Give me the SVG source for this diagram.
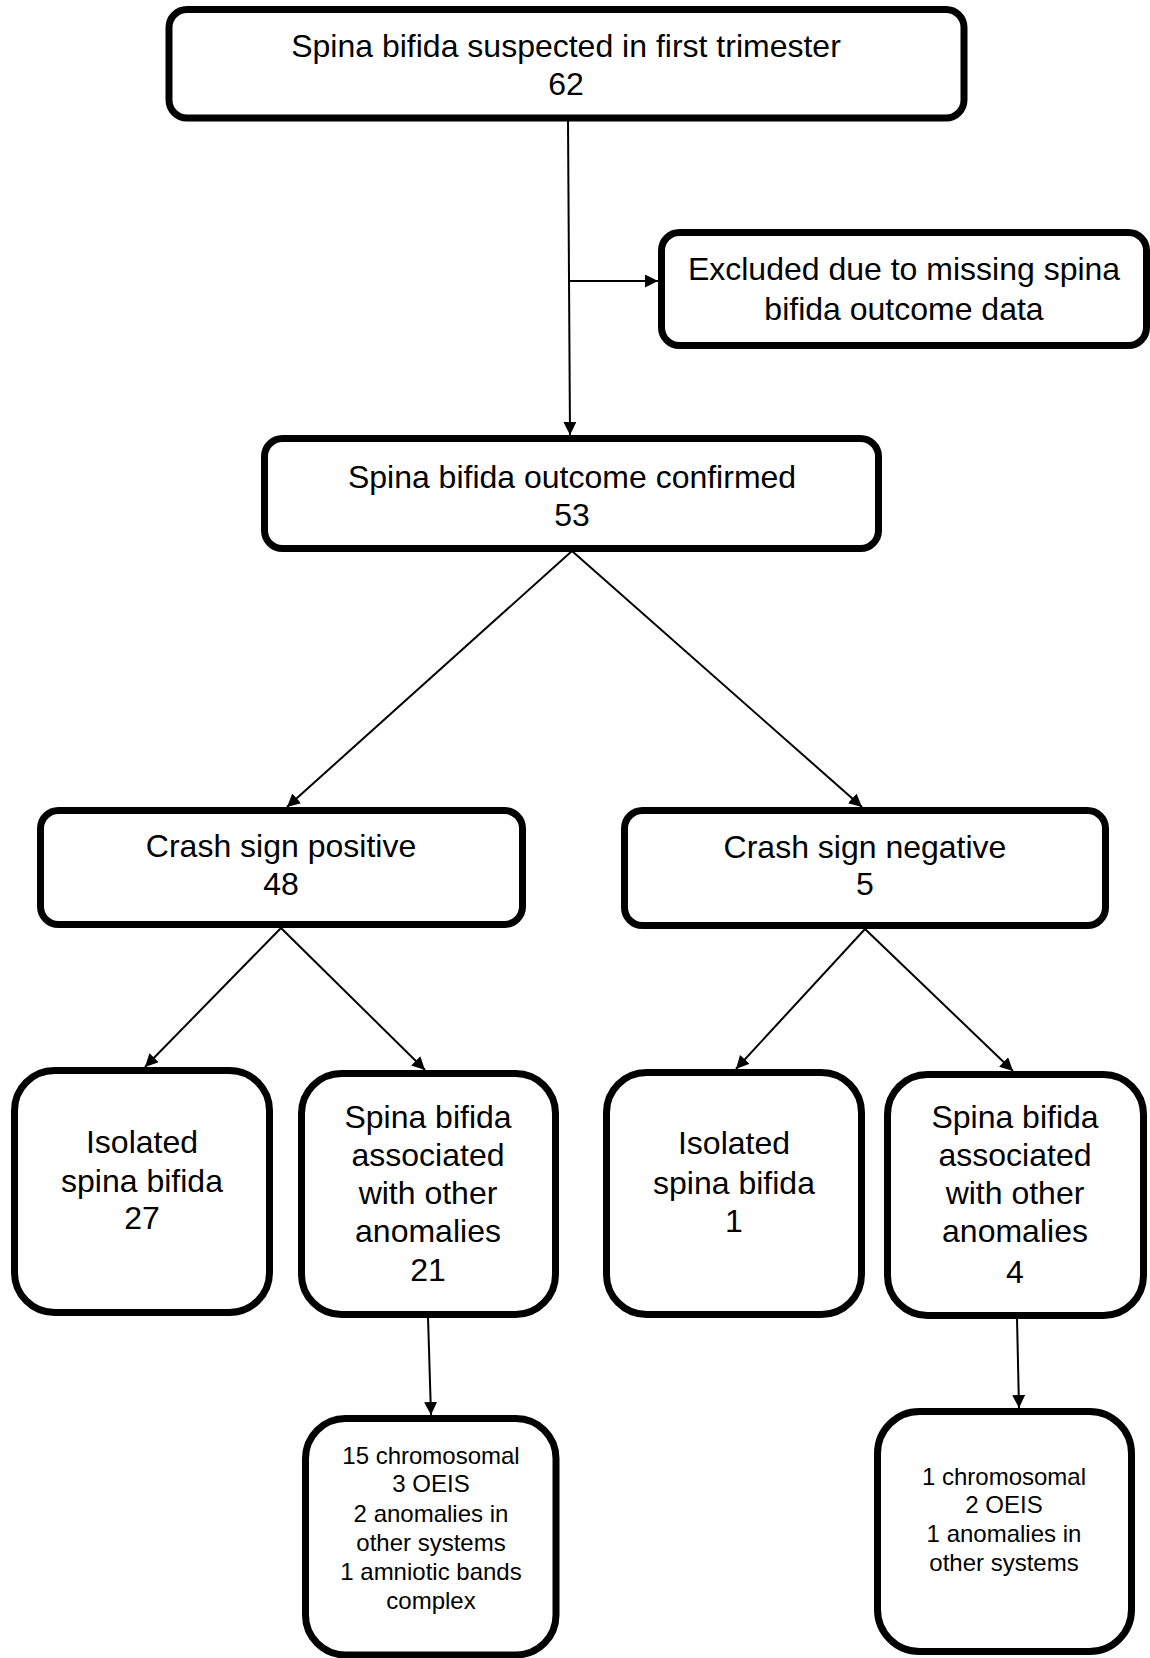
<svg xmlns="http://www.w3.org/2000/svg" width="1150" height="1658" viewBox="0 0 1150 1658">
  <style>
    .box { fill: #ffffff; stroke: #000000; stroke-width: 7; }
    .link { fill: none; stroke: #000000; stroke-width: 2; marker-end: url(#arrow); }
    text { font-family: "Liberation Sans", Arial, Helvetica, sans-serif; fill: #000000; text-anchor: middle; }
    .t32 { font-size: 32px; }
    .t24 { font-size: 24px; }
  </style>
  <defs>
    <marker id="arrow" markerUnits="userSpaceOnUse" markerWidth="14" markerHeight="14" refX="13" refY="6.5" orient="auto">
      <path d="M0,0 L13,6.5 L0,13 z" fill="#000000"/>
    </marker>
  </defs>
  <rect width="1150" height="1658" fill="#ffffff"/>

  <!-- connectors -->
  <g id="connectors">
    <line class="link" x1="568" y1="121" x2="570" y2="435"/>
    <line class="link" x1="569" y1="281" x2="658" y2="281"/>
    <line class="link" x1="572" y1="551" x2="287" y2="807"/>
    <line class="link" x1="572" y1="551" x2="862" y2="807"/>
    <line class="link" x1="281" y1="928" x2="145" y2="1067"/>
    <line class="link" x1="281" y1="928" x2="425" y2="1070"/>
    <line class="link" x1="865" y1="929" x2="736" y2="1069"/>
    <line class="link" x1="865" y1="929" x2="1013" y2="1071"/>
    <line class="link" x1="428" y1="1317" x2="431" y2="1415"/>
    <line class="link" x1="1017" y1="1318" x2="1019" y2="1408"/>
  </g>

  <g id="suspected">
    <rect class="box" x="169" y="9.5" width="795" height="108.5" rx="18"/>
    <text class="t32" x="566" y="57">Spina bifida suspected in first trimester</text>
    <text class="t32" x="566" y="95">62</text>
  </g>

  <g id="excluded">
    <rect class="box" x="661.5" y="232.5" width="485" height="113" rx="18"/>
    <text class="t32" x="904" y="280">Excluded due to missing spina</text>
    <text class="t32" x="904" y="320">bifida outcome data</text>
  </g>

  <g id="confirmed">
    <rect class="box" x="264.5" y="438.5" width="614" height="110" rx="18"/>
    <text class="t32" x="572" y="488">Spina bifida outcome confirmed</text>
    <text class="t32" x="572" y="526">53</text>
  </g>

  <g id="crash-positive">
    <rect class="box" x="40.5" y="810.5" width="482" height="114" rx="18"/>
    <text class="t32" x="281" y="857">Crash sign positive</text>
    <text class="t32" x="281" y="895">48</text>
  </g>

  <g id="crash-negative">
    <rect class="box" x="624.5" y="810.5" width="481" height="115" rx="18"/>
    <text class="t32" x="865" y="858">Crash sign negative</text>
    <text class="t32" x="865" y="895">5</text>
  </g>

  <g id="isolated-positive">
    <rect class="box" x="14.5" y="1070.5" width="255" height="242" rx="40"/>
    <text class="t32" x="142" y="1153">Isolated</text>
    <text class="t32" x="142" y="1192">spina bifida</text>
    <text class="t32" x="142" y="1229">27</text>
  </g>

  <g id="associated-positive">
    <rect class="box" x="301.5" y="1073.5" width="254" height="241" rx="40"/>
    <text class="t32" x="428" y="1128">Spina bifida</text>
    <text class="t32" x="428" y="1166">associated</text>
    <text class="t32" x="428" y="1204">with other</text>
    <text class="t32" x="428" y="1242">anomalies</text>
    <text class="t32" x="428" y="1281">21</text>
  </g>

  <g id="isolated-negative">
    <rect class="box" x="606.5" y="1072.5" width="255" height="242" rx="40"/>
    <text class="t32" x="734" y="1154">Isolated</text>
    <text class="t32" x="734" y="1194">spina bifida</text>
    <text class="t32" x="734" y="1232">1</text>
  </g>

  <g id="associated-negative">
    <rect class="box" x="887.5" y="1074.5" width="256" height="241" rx="40"/>
    <text class="t32" x="1015" y="1128">Spina bifida</text>
    <text class="t32" x="1015" y="1166">associated</text>
    <text class="t32" x="1015" y="1204">with other</text>
    <text class="t32" x="1015" y="1242">anomalies</text>
    <text class="t32" x="1015" y="1283">4</text>
  </g>

  <g id="details-positive">
    <rect class="box" x="305.5" y="1418.5" width="250.5" height="236.5" rx="40"/>
    <text class="t24" x="431" y="1464">15 chromosomal</text>
    <text class="t24" x="431" y="1492">3 OEIS</text>
    <text class="t24" x="431" y="1522">2 anomalies in</text>
    <text class="t24" x="431" y="1551">other systems</text>
    <text class="t24" x="431" y="1580">1 amniotic bands</text>
    <text class="t24" x="431" y="1609">complex</text>
  </g>

  <g id="details-negative">
    <rect class="box" x="877.5" y="1411.5" width="254" height="240" rx="42"/>
    <text class="t24" x="1004" y="1485">1 chromosomal</text>
    <text class="t24" x="1004" y="1513">2 OEIS</text>
    <text class="t24" x="1004" y="1542">1 anomalies in</text>
    <text class="t24" x="1004" y="1571">other systems</text>
  </g>
</svg>
